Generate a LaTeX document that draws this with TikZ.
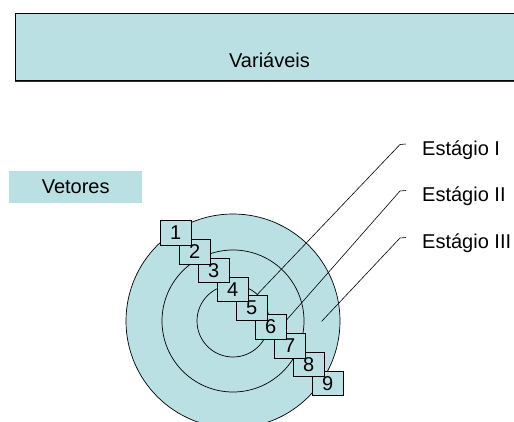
\documentclass[tikz,border=0pt]{standalone}
\usepackage{fontspec}
\setmainfont{Liberation Sans}
\usepackage{xcolor}
\usepackage{tikz}
\definecolor{ringfill}{RGB}{186,224,227}

\begin{document}
\begin{tikzpicture}[x=1pt,y=-1pt,
  font=\fontsize{20}{24}\selectfont,
  sq/.style={draw,fill=ringfill,line width=0.7pt,minimum width=31pt,minimum height=24.5pt,inner sep=0pt},
  ring/.style={draw,fill=ringfill,line width=0.7pt},
  lbl/.style={anchor=west,inner sep=0pt},
  lead/.style={line width=0.6pt}]
  \useasboundingbox (0,0) rectangle (514,422);
  \node[draw,fill=ringfill,line width=0.8pt,anchor=north west,minimum width=510pt,minimum height=67pt,inner sep=0pt] (var) at (15,13.5) {};
  \draw[line width=1.4pt,black!80] (var.south west) -- (var.south east);
  \node (vartxt) at (269.5,60) {Variáveis};
  \node[fill=ringfill,anchor=north west,minimum width=133pt,minimum height=32pt,inner sep=0pt] (vet) at (9,171) {Vetores};
  \node[ring,circle,minimum size=214pt,inner sep=0pt] (c3) at (233,321) {};
  \node[ring,circle,minimum size=142pt,inner sep=0pt] (c2) at (233,321) {};
  \node[ring,circle,minimum size=72pt,inner sep=0pt] (c1) at (233,321) {};
  \node[lbl] (e1) at (422,150) {Estágio I};
  \node[lbl] (e2) at (422,196.5) {Estágio II};
  \node[lbl] (e3) at (422,243) {Estágio III};
  \coordinate (h1) at (406,144);
  \coordinate (h2) at (406,190.5);
  \coordinate (h3) at (406,237.5);
  \coordinate (p1) at (252,300);
  \coordinate (p2) at (283,324);
  \coordinate (p3) at (321.5,321.5);
  \draw[lead] (h1) -- ++(-6,0.5) -- (p1);
  \draw[lead] (h2) -- ++(-6,0.5) -- (p2);
  \draw[lead] (h3) -- ++(-6,0.5) -- (p3);
  \node[sq] (s9) at (327.7,383.2) {9};
  \node[sq] (s8) at (308.7,364.4) {8};
  \node[sq] (s7) at (289.7,345.6) {7};
  \node[sq] (s6) at (270.8,326.8) {6};
  \node[sq] (s5) at (251.8,308) {5};
  \node[sq] (s4) at (232.8,289.2) {4};
  \node[sq] (s3) at (213.8,270.4) {3};
  \node[sq] (s2) at (194.8,251.6) {2};
  \node[sq] (s1) at (175.8,232.8) {1};
\end{tikzpicture}
\end{document}
